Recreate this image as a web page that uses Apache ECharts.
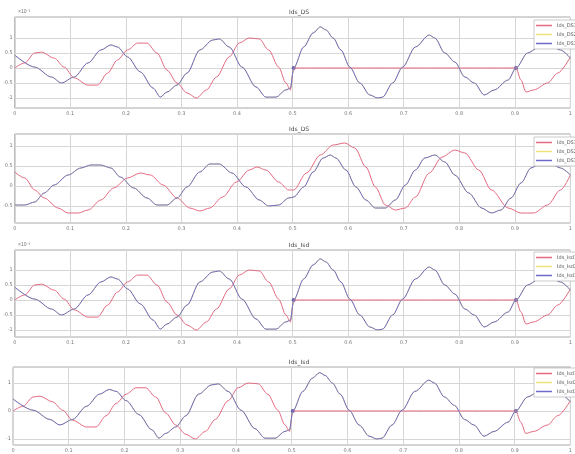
<!DOCTYPE html>
<html><head><meta charset="utf-8">
<script src="https://cdn.jsdelivr.net/npm/echarts@6/dist/echarts.min.js"></script>
<style>html,body{margin:0;padding:0;background:#fff}#c{width:575px;height:454px}</style>
</head><body><div id="c"></div><script>
// ---------- data ----------
const titles = ['Ids_DS', 'Ids_DS', 'Ids_Isd', 'Ids_Isd'];
const legendNamesA = ['Ids_DS1', 'Ids_DS2', 'Ids_DS3'];
const legendNamesB = ['Ids_Isd1', 'Ids_Isd2', 'Ids_Isd3'];
const xTickValues = [0, 0.1, 0.2, 0.3, 0.4, 0.5, 0.6, 0.7, 0.8, 0.9, 1];

// Panel 1 (also drawn in panels 3 and 4, which look identical)
const p1BlueX = [0.000,0.036,0.066,0.084,0.107,0.132,0.155,0.173,0.185,0.203,0.226,0.249,0.262,0.274,0.292,0.310,0.333,0.356,0.368,0.386,0.409,0.434,0.452,0.470,0.488,0.496,0.502,0.520,0.537,0.550,0.560,0.573,0.587,0.603,0.621,0.639,0.653,0.662,0.680,0.698,0.721,0.746,0.756,0.774,0.792,0.810,0.827,0.845,0.863,0.888,0.902,0.923,0.941,0.964,0.982,1.000];
const p1BlueY = [0.43,0.03,-0.30,-0.50,-0.30,0.17,0.60,0.77,0.70,0.37,-0.13,-0.67,-0.97,-0.80,-0.57,-0.17,0.60,0.93,0.97,0.70,0.03,-0.63,-0.97,-0.97,-0.73,-0.67,0.00,0.70,1.17,1.37,1.27,1.00,0.60,0.03,-0.50,-0.90,-1.00,-0.97,-0.50,0.03,0.70,1.10,1.00,0.50,0.20,-0.30,-0.50,-0.90,-0.73,-0.40,0.00,0.50,0.67,0.75,0.60,0.33];
const p1RedX = [0.000,0.018,0.036,0.048,0.071,0.089,0.107,0.132,0.149,0.167,0.185,0.203,0.221,0.238,0.256,0.274,0.292,0.310,0.327,0.345,0.363,0.386,0.404,0.422,0.440,0.457,0.475,0.488,0.496,0.502,0.600,0.700,0.800,0.902,0.911,0.920,0.934,0.959,0.977,1.000];
const p1RedY = [0.00,0.17,0.50,0.53,0.33,0.03,-0.33,-0.57,-0.57,-0.17,0.27,0.60,0.83,0.83,0.50,-0.07,-0.50,-0.83,-1.00,-0.73,-0.30,0.37,0.83,1.00,0.97,0.60,0.03,-0.50,-0.73,0.00,0.00,0.00,0.00,0.00,-0.40,-0.80,-0.73,-0.50,-0.17,0.37];
const dotX = [0.502, 0.902];
const dotY = [0.00, 0.00];

// Panel 2
const p2BlueX = [0.000,0.018,0.036,0.053,0.071,0.096,0.119,0.137,0.155,0.173,0.190,0.214,0.238,0.256,0.274,0.292,0.310,0.333,0.351,0.368,0.391,0.416,0.440,0.457,0.475,0.493,0.502,0.520,0.537,0.555,0.568,0.578,0.596,0.614,0.632,0.649,0.667,0.685,0.703,0.721,0.738,0.756,0.774,0.792,0.817,0.840,0.858,0.875,0.893,0.911,0.929,0.947,0.964,0.982,1.000];
const p2BlueY = [-0.475,-0.475,-0.40,-0.175,0.025,0.275,0.45,0.525,0.525,0.45,0.225,-0.05,-0.30,-0.475,-0.475,-0.30,-0.025,0.35,0.55,0.55,0.325,-0.025,-0.35,-0.50,-0.475,-0.30,-0.275,-0.025,0.35,0.70,0.775,0.70,0.40,-0.025,-0.35,-0.55,-0.55,-0.35,0.025,0.40,0.70,0.775,0.60,0.275,-0.175,-0.55,-0.675,-0.60,-0.30,0.075,0.45,0.575,0.575,0.45,0.275];
const p2RedX = [0.000,0.018,0.036,0.053,0.078,0.096,0.114,0.132,0.155,0.178,0.203,0.226,0.244,0.267,0.292,0.315,0.333,0.351,0.374,0.399,0.422,0.436,0.452,0.475,0.493,0.502,0.525,0.550,0.573,0.594,0.612,0.632,0.649,0.667,0.685,0.703,0.721,0.746,0.769,0.792,0.810,0.835,0.858,0.888,0.911,0.934,0.959,0.982,1.000];
const p2RedY = [0.35,0.20,-0.10,-0.30,-0.55,-0.675,-0.675,-0.60,-0.35,-0.05,0.20,0.325,0.275,0.025,-0.30,-0.55,-0.625,-0.55,-0.275,0.10,0.40,0.475,0.40,0.10,-0.10,-0.10,0.325,0.775,1.025,1.075,0.95,0.475,-0.025,-0.475,-0.60,-0.55,-0.275,0.325,0.725,0.90,0.825,0.40,-0.10,-0.55,-0.675,-0.675,-0.475,-0.10,0.275];

// y tick values / ranges per panel
const yTicks = [[-1,-0.5,0,0.5,1],[-0.5,0,0.5,1],[-1,-0.5,0,0.5,1],[-1,0,1]];
const yRanges = [[-1.333,1.70],[-0.925,1.30],[-1.233,1.667],[-1.214,1.571]];

// ---------- layout ----------
const gridTops = [17, 134, 250, 367];
const gridHeights = [91, 89, 87, 78];
const titleTops = [4, 121, 237, 354];
const legendTops = [20, 137, 252, 368];

const RED = '#e46a80', YEL = '#efe27a', BLUE = '#6c68cc';
const COLORS = [RED, YEL, BLUE];
const zip = (xs, ys) => xs.map((x, i) => [x, ys[i]]);

const panels = [
  {red: zip(p1RedX, p1RedY), blue: zip(p1BlueX, p1BlueY), dots: true, names: legendNamesA},
  {red: zip(p2RedX, p2RedY), blue: zip(p2BlueX, p2BlueY), dots: false, names: legendNamesA},
  {red: zip(p1RedX, p1RedY), blue: zip(p1BlueX, p1BlueY), dots: true, names: legendNamesB},
  {red: zip(p1RedX, p1RedY), blue: zip(p1BlueX, p1BlueY), dots: true, names: legendNamesB}
];

const grid = [], xAxis = [], yAxis = [], series = [], title = [], legend = [];
const fmt = v => (Math.round(v * 100) / 100).toString();
panels.forEach((p, i) => {
  grid.push({left: 13, right: 0, top: gridTops[i], height: gridHeights[i], show: true,
    backgroundColor: '#fff', borderColor: '#a8a8a8', borderWidth: 1});
  xAxis.push({type: 'value', gridIndex: i, min: 0, max: 1, interval: 0.1,
    axisLine: {show: false}, axisTick: {show: false},
    axisLabel: {fontSize: 5, color: '#777', margin: 3, formatter: fmt, showMaxLabel: true},
    splitLine: {show: true, lineStyle: {color: '#d6d6d6', width: 1}}});
  yAxis.push({type: 'value', gridIndex: i, min: yRanges[i][0], max: yRanges[i][1],
    axisLine: {show: false},
    axisTick: {show: false, customValues: yTicks[i]},
    axisLabel: {fontSize: 5, color: '#777', margin: 2, customValues: yTicks[i], formatter: fmt},
    splitLine: {show: true, lineStyle: {color: '#d6d6d6', width: 1}}});
  title.push({text: titles[i], left: 294, top: titleTops[i], textAlign: 'center',
    textStyle: {fontSize: 6, color: '#444', fontWeight: 'normal', fontFamily: 'DejaVu Sans'}});
  const common = {type: 'line', xAxisIndex: i, yAxisIndex: i, symbol: 'none', smooth: 0.3,
    smoothMonotone: 'x', animation: false, silent: true};
  series.push(Object.assign({}, common, {name: p.names[0], data: p.red, color: RED, lineStyle: {color: RED, width: 1}, itemStyle: {color: RED}}));
  series.push(Object.assign({}, common, {name: p.names[1], data: p.blue, color: YEL, lineStyle: {color: YEL, width: 1}, itemStyle: {color: YEL}}));
  series.push(Object.assign({}, common, {name: p.names[2], data: p.blue, color: BLUE, lineStyle: {color: BLUE, width: 1}, itemStyle: {color: BLUE}}));
  if (p.dots) {
    series.push({type: 'scatter', name: 'marks' + i, xAxisIndex: i, yAxisIndex: i, data: zip(dotX, dotY),
      symbolSize: 4, itemStyle: {color: '#3b3b9a'}, silent: true, animation: false});
  }
  legend.push({data: p.names.map((n, k) => ({name: n, icon: 'path://M0,0L16,0L16,1.5L0,1.5Z',
      itemStyle: {color: COLORS[k], borderWidth: 0}, lineStyle: {color: COLORS[k], width: 1.5}})),
    orient: 'vertical', left: 534, top: legendTops[i],
    itemWidth: 16, itemHeight: 2, itemGap: 4, padding: [3, 3, 3, 2],
    backgroundColor: '#fff', borderColor: '#aaa', borderWidth: 0.6,
    textStyle: {fontSize: 5, color: '#555', fontFamily: 'DejaVu Sans'}, selectedMode: false});
});

const chart = echarts.init(document.getElementById('c'), null, {renderer: 'canvas'});
chart.setOption({
  animation: false,
  textStyle: {fontFamily: 'DejaVu Sans'},
  title, grid, xAxis, yAxis, series, legend,
  graphic: [
    {type: 'text', left: 18, top: 9, style: {text: '×10⁻³', fontSize: 5, fill: '#777'}},
    {type: 'text', left: 18, top: 242, style: {text: '×10⁻³', fontSize: 5, fill: '#777'}}
  ]
});
</script></body></html>
